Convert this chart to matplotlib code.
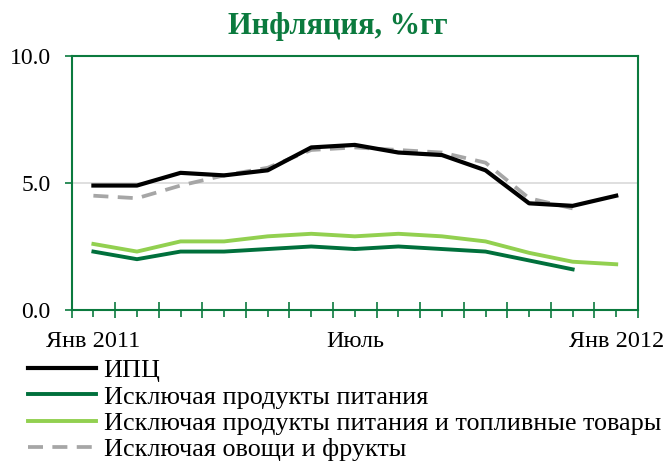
import matplotlib.pyplot as plt
from matplotlib.ticker import FixedLocator, FixedFormatter

plt.rcParams['font.family'] = ['Liberation Serif', 'DejaVu Serif']

# данные, %гг, янв 2011 - янв 2012
months = ['Янв 2011', '', '', '', '', '', 'Июль', '', '', '', '', '', 'Янв 2012']
cpi = [4.9, 4.9, 5.4, 5.3, 5.5, 6.4, 6.5, 6.2, 6.1, 5.5, 4.2, 4.1, 4.5]
ex_food = [2.3, 2.0, 2.3, 2.3, 2.4, 2.5, 2.4, 2.5, 2.4, 2.3, 1.95, 1.6]
ex_food_fuel = [2.6, 2.3, 2.7, 2.7, 2.9, 3.0, 2.9, 3.0, 2.9, 2.7, 2.25, 1.9, 1.8]
ex_veg = [4.5, 4.4, 4.9, 5.3, 5.6, 6.3, 6.4, 6.3, 6.2, 5.8, 4.4, 4.0]

green = '#0B7A3E'
light = '#92D050'
gray = '#A6A6A6'

fig = plt.figure(figsize=(6.65, 4.63), dpi=100)
ax = fig.add_axes([0.1077, 0.3305, 0.8517, 0.5485])

l1, = ax.plot(range(len(cpi)), cpi, color='black', lw=3.0, label='ИПЦ')
l2, = ax.plot(range(len(ex_food)), ex_food, color='#00703C', lw=2.8,
              label='Исключая продукты питания')
l3, = ax.plot(range(len(ex_food_fuel)), ex_food_fuel, color=light, lw=2.8,
              label='Исключая продукты питания и топливные товары')
l4, = ax.plot(range(len(ex_veg)), ex_veg, color=gray, lw=2.7, dashes=(4, 2.5),
              label='Исключая овощи и фрукты')
l4.set_zorder(1.9)

ax.set_xlim(-0.5, len(months) - 0.5)
ax.set_ylim(0, 10)
ax.set_yticks([0, 5, 10])
ax.set_yticklabels(['0.0', '5.0', '10.0'])
ax.yaxis.grid(True, color='#D9D9D9', lw=1.2)
ax.set_axisbelow(True)

ax.xaxis.set_major_locator(FixedLocator([i - 0.5 for i in range(len(months) + 1)]))
ax.xaxis.set_major_formatter(FixedFormatter([''] * (len(months) + 1)))
ax.xaxis.set_minor_locator(FixedLocator(list(range(len(months)))))
ax.xaxis.set_minor_formatter(FixedFormatter(months))

ax.tick_params(axis='x', which='major', direction='inout', length=11, width=1.2, color=green)
ax.tick_params(axis='x', which='minor', direction='out', length=5, width=1.2, color=green,
               labelsize=17.5, pad=10)
ax.tick_params(axis='y', direction='out', length=5, width=1.2, color=green, labelsize=17, pad=10)

for s in ax.spines.values():
    s.set_color(green)
    s.set_linewidth(1.5)

fig.text(0.508, 0.943, 'Инфляция, %гг', color=green, fontsize=22, fontweight='bold',
         ha='center', va='center')

fig.legend(handles=[l1, l2, l3, l4], loc='upper left', bbox_to_anchor=(0.042, 0.225),
           frameon=False, fontsize=18.8, handlelength=2.6, handletextpad=0.3,
           labelspacing=0.12, borderaxespad=0, borderpad=0)

fig.savefig('out.png', dpi=100)
